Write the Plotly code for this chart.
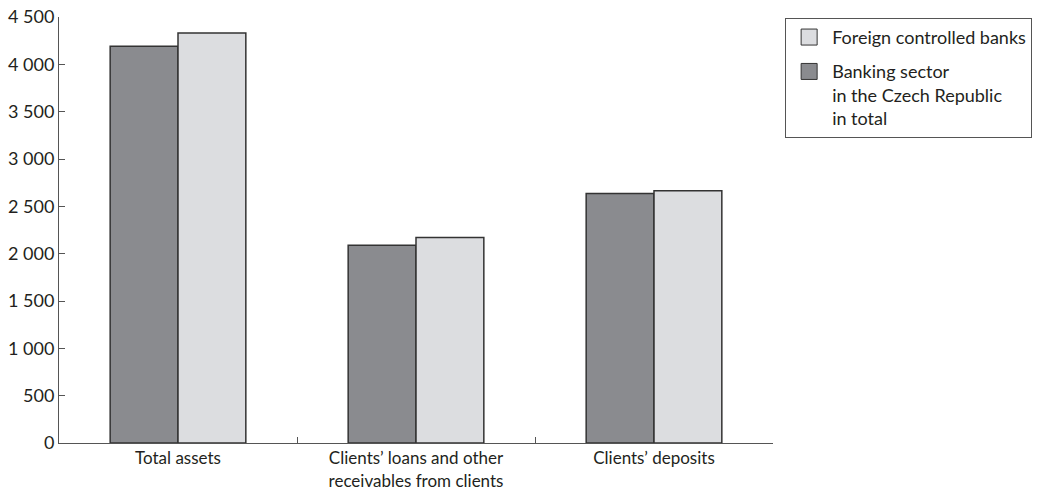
import plotly.graph_objects as go

categories = ["Total assets", "Clients’ loans and other<br>receivables from clients", "Clients’ deposits"]
banking_sector_total = [4190, 2090, 2635]
foreign_controlled = [4330, 2170, 2665]
y_ticks = [0, 500, 1000, 1500, 2000, 2500, 3000, 3500, 4000, 4500]

series_names = ["Banking sector<br>in the Czech Republic<br>in total", "Foreign controlled banks"]
series_colors = ["#8a8b8f", "#dcdde0"]
series_values = [banking_sector_total, foreign_controlled]

FONT = "Lato, Open Sans, sans-serif"
TEXT = "#231f20"
EDGE = "#333333"

fig = go.Figure()
for name, color, values in zip(series_names, series_colors, series_values):
    fig.add_trace(go.Bar(
        x=categories, y=values, name=name, showlegend=False,
        marker=dict(color=color, line=dict(color=EDGE, width=1.5)),
    ))
# legend keys drawn as larger squares, one group per series, last series listed first
for i, (name, color) in enumerate(zip(series_names[::-1], series_colors[::-1])):
    fig.add_trace(go.Scatter(
        x=[None], y=[None], mode="markers", name=name,
        legendgroup=f"g{i}",
        marker=dict(symbol="square", size=18, color=color,
                    line=dict(color=EDGE, width=1)),
    ))

fig.update_layout(
    width=1044, height=489,
    margin=dict(l=59, r=271, t=17, b=46),
    paper_bgcolor="white", plot_bgcolor="white",
    barmode="group", bargap=0.43, bargroupgap=0,
    separators=". ",
    font=dict(family=FONT, size=18, color=TEXT),
    showlegend=True,
    legend=dict(
        x=1.017, y=0.998, xanchor="left", yanchor="top",
        traceorder="grouped", valign="top",
        tracegroupgap=8,
        bordercolor="#555555", borderwidth=1,
        font=dict(family=FONT, size=18, color=TEXT),
        itemsizing="trace", itemwidth=36,
    ),
)
fig.update_xaxes(
    showline=True, linecolor="#555555", linewidth=1,
    ticks="inside", ticklen=6, tickcolor="#555555",
    tickson="boundaries", showgrid=False, automargin=False,
    tickfont=dict(size=17), ticklabelstandoff=0,
)
fig.update_yaxes(
    range=[0, 4500], tickvals=y_ticks, tickformat=",d",
    showline=True, linecolor="#555555", linewidth=1,
    ticks="inside", ticklen=6, tickcolor="#555555",
    showgrid=False, zeroline=False, automargin=False,
)

fig.write_html("out.html")
